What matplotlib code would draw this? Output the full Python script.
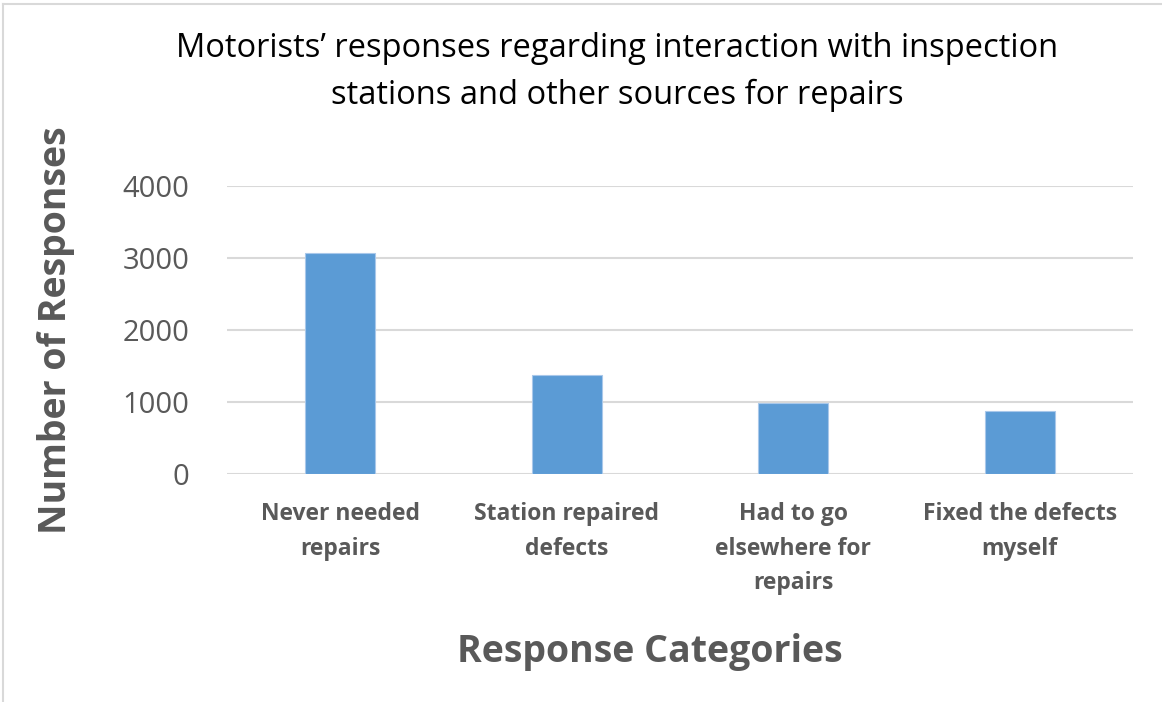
import matplotlib
matplotlib.use("Agg")
import matplotlib.pyplot as plt
from matplotlib.lines import Line2D

categories = ["Never needed\nrepairs", "Station repaired\ndefects", "Had to go\nelsewhere for\nrepairs", "Fixed the defects\nmyself"]
values = [3070, 1370, 990, 875]
yticks = [0, 1000, 2000, 3000, 4000]

W, H = 1162, 702
fig = plt.figure(figsize=(W / 100, H / 100), dpi=100)
font = "Open Sans"
gray = "#595959"

ax = fig.add_axes([227 / W, 1 - 474 / H, (1133 - 227) / W, (474 - 186) / H])
x = list(range(len(categories)))
ax.bar(x, values, width=0.31, color="#5B9BD5", edgecolor="#A9C8EA", linewidth=0.8, zorder=3)
ax.set_xlim(-0.5, len(categories) - 0.5)
ax.set_ylim(0, 4000)
ax.set_yticks(yticks)
ax.set_yticklabels([str(v) for v in yticks], fontsize=21, color=gray, family=font)
ax.set_xticks(x)
ax.set_xticklabels(categories, fontsize=16.5, color=gray, family=font, fontweight="bold", linespacing=1.6, va="top")
ax.tick_params(axis="both", length=0)
ax.tick_params(axis="y", pad=27)
ax.tick_params(axis="x", pad=20)
ax.grid(axis="y", color="#D9D9D9", linewidth=1.5, zorder=0)
for s in ax.spines.values():
    s.set_visible(False)

fig.text(617 / W, 1 - 72 / H, "Motorists\u2019 responses regarding interaction with inspection\nstations and other sources for repairs",
         ha="center", va="center", fontsize=23.5, family=font, color="#000000", linespacing=1.55)
fig.text(56 / W, 1 - 330 / H, "Number of Responses", rotation=90, ha="center", va="center",
         fontsize=27, family=font, fontweight="bold", color=gray)
fig.text(650 / W, 1 - 652 / H, "Response Categories", ha="center", va="center",
         fontsize=27, family=font, fontweight="bold", color=gray)

fig.add_artist(Line2D([3 / W, 3 / W], [0, 1 - 4 / H], color="#D9D9D9", linewidth=1.5))
fig.add_artist(Line2D([3 / W, 1], [1 - 4 / H, 1 - 4 / H], color="#D9D9D9", linewidth=1.5))

fig.savefig("out.png", dpi=100)
